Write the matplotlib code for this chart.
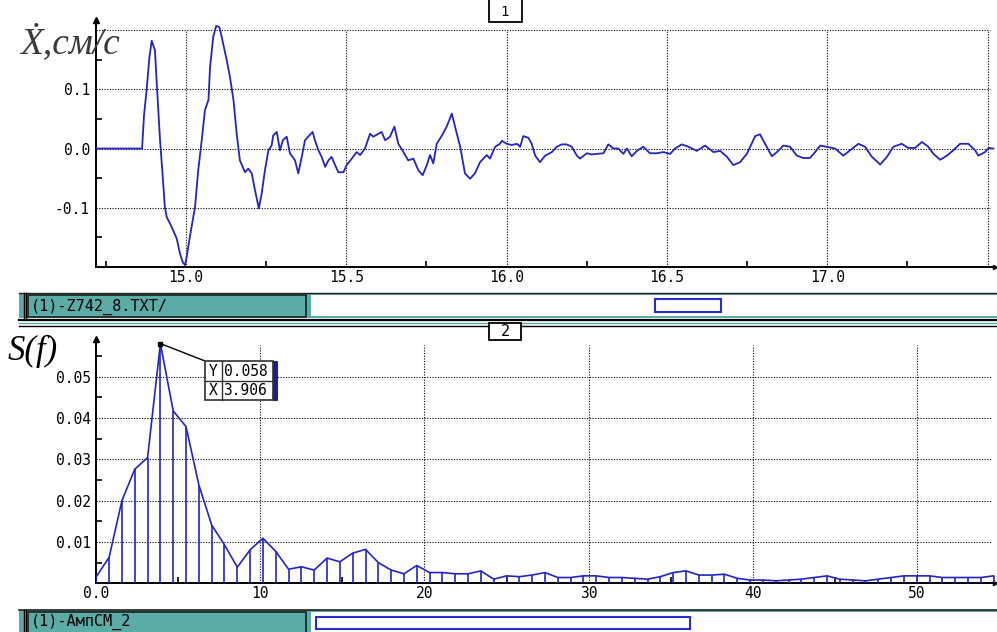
import matplotlib
matplotlib.use("Agg")
import matplotlib.pyplot as plt
from matplotlib.patches import Rectangle
from matplotlib.lines import Line2D

# ---------------- data ----------------
# top panel: velocity record, time (s) and value (cm/s)
time_s = [14.718, 14.863, 14.869, 14.877, 14.886, 14.893, 14.903, 14.910, 14.919, 14.926,
          14.934, 14.940, 14.955, 14.971, 14.981, 14.990, 14.997, 15.002, 15.012, 15.028,
          15.038, 15.049, 15.059, 15.070, 15.075, 15.085, 15.094, 15.104, 15.111, 15.127,
          15.137, 15.148, 15.158, 15.168, 15.184, 15.194, 15.205, 15.215, 15.227, 15.236,
          15.246, 15.257, 15.267, 15.272, 15.283, 15.293, 15.302, 15.314, 15.324, 15.340,
          15.350, 15.361, 15.371, 15.381, 15.395, 15.402, 15.413, 15.423, 15.434, 15.444,
          15.454, 15.465, 15.475, 15.491, 15.501, 15.517, 15.532, 15.543, 15.558, 15.574,
          15.584, 15.600, 15.610, 15.621, 15.636, 15.650, 15.662, 15.678, 15.693, 15.709,
          15.725, 15.738, 15.751, 15.761, 15.771, 15.782, 15.798, 15.813, 15.829, 15.839,
          15.855, 15.870, 15.886, 15.901, 15.917, 15.938, 15.948, 15.964, 15.979, 15.985,
          16.000, 16.016, 16.032, 16.042, 16.052, 16.068, 16.078, 16.089, 16.104, 16.120,
          16.141, 16.156, 16.172, 16.187, 16.203, 16.219, 16.229, 16.250, 16.265, 16.281,
          16.302, 16.317, 16.333, 16.348, 16.364, 16.375, 16.390, 16.406, 16.426, 16.447,
          16.468, 16.489, 16.510, 16.525, 16.546, 16.567, 16.593, 16.619, 16.645, 16.666,
          16.687, 16.707, 16.728, 16.749, 16.764, 16.775, 16.790, 16.806, 16.827, 16.843,
          16.863, 16.884, 16.905, 16.925, 16.946, 16.962, 16.978, 16.998, 17.024, 17.050,
          17.071, 17.097, 17.118, 17.139, 17.165, 17.186, 17.206, 17.232, 17.253, 17.274,
          17.295, 17.315, 17.331, 17.352, 17.373, 17.393, 17.414, 17.440, 17.461, 17.471,
          17.492, 17.503, 17.518]
velocity = [0.000, 0.000, 0.056, 0.098, 0.155, 0.182, 0.166, 0.098, 0.014, -0.037,
            -0.099, -0.116, -0.132, -0.152, -0.177, -0.192, -0.197, -0.183, -0.149, -0.099,
            -0.037, 0.014, 0.065, 0.082, 0.138, 0.189, 0.207, 0.205, 0.189, 0.149,
            0.121, 0.082, 0.025, -0.020, -0.040, -0.034, -0.042, -0.070, -0.101, -0.076,
            -0.037, -0.003, 0.005, 0.022, 0.028, -0.003, 0.014, 0.020, -0.008, -0.020,
            -0.042, -0.014, 0.014, 0.020, 0.028, 0.014, -0.003, -0.014, -0.031, -0.020,
            -0.014, -0.028, -0.040, -0.040, -0.028, -0.017, -0.006, -0.011, 0.000, 0.025,
            0.020, 0.025, 0.028, 0.014, 0.020, 0.037, 0.008, -0.006, -0.020, -0.017,
            -0.037, -0.045, -0.028, -0.011, -0.025, 0.008, 0.022, 0.037, 0.059, 0.037,
            0.003, -0.042, -0.051, -0.042, -0.023, -0.011, -0.017, 0.003, 0.008, 0.013,
            0.008, 0.006, 0.008, 0.003, 0.021, 0.018, 0.008, -0.012, -0.023, -0.012,
            -0.006, 0.003, 0.007, 0.007, 0.003, -0.012, -0.017, -0.008, -0.010, -0.009,
            -0.008, 0.007, 0.000, 0.000, -0.009, 0.000, -0.013, -0.004, 0.003, -0.008,
            -0.008, -0.006, -0.009, 0.000, 0.007, 0.003, -0.004, 0.005, -0.006, -0.004,
            -0.014, -0.028, -0.023, -0.009, 0.008, 0.021, 0.024, 0.008, -0.013, -0.006,
            0.005, 0.003, -0.012, -0.016, -0.016, -0.006, 0.005, 0.003, 0.000, -0.012,
            -0.003, 0.008, 0.003, -0.014, -0.027, -0.014, 0.003, 0.008, 0.001, 0.001,
            0.011, 0.003, -0.009, -0.019, -0.012, -0.003, 0.008, 0.008, -0.003, -0.012,
            -0.006, 0.001, 0.000]

# bottom panel: amplitude spectrum, frequency step 0.78125 Hz
freq_step = 0.78125
amplitude = [0.0016, 0.0063, 0.0200, 0.0276, 0.0304, 0.0580, 0.0417, 0.0379, 0.0238, 0.0141,
             0.0093, 0.0039, 0.0081, 0.0109, 0.0077, 0.0034, 0.0040, 0.0032, 0.0061, 0.0052,
             0.0073, 0.0082, 0.0050, 0.0032, 0.0023, 0.0043, 0.0026, 0.0026, 0.0023, 0.0023,
             0.0030, 0.0010, 0.0018, 0.0016, 0.0020, 0.0026, 0.0014, 0.0014, 0.0018, 0.0018,
             0.0014, 0.0014, 0.0012, 0.0010, 0.0016, 0.0026, 0.0030, 0.0020, 0.0020, 0.0022,
             0.0012, 0.0008, 0.0008, 0.0006, 0.0008, 0.0010, 0.0014, 0.0018, 0.0010, 0.0008,
             0.0006, 0.0010, 0.0014, 0.0018, 0.0018, 0.0018, 0.0014, 0.0014, 0.0014, 0.0014,
             0.0018]
frequency = [k * freq_step for k in range(len(amplitude))]

top_xticks = [15.0, 15.5, 16.0, 16.5, 17.0]
top_xticklabels = ["15.0", "15.5", "16.0", "16.5", "17.0"]
top_yticks = [-0.1, 0.0, 0.1]
top_yticklabels = ["-0.1", "0.0", "0.1"]
bot_xticks = [0, 10, 20, 30, 40, 50]
bot_xticklabels = ["0.0", "10", "20", "30", "40", "50"]
bot_yticks = [0.01, 0.02, 0.03, 0.04, 0.05]
bot_yticklabels = ["0.01", "0.02", "0.03", "0.04", "0.05"]

peak_x, peak_y = 3.906, 0.058
top_label = "Ẋ,см/с"
bot_label = "S(f)"
top_file = "(1)-Z742_8.TXT/"
bot_file = "(1)-АмпСМ_2"

# ---------------- figure ----------------
W, H = 997, 632
fig = plt.figure(figsize=(W / 100, H / 100), dpi=100)
fig.patch.set_facecolor("white")

BLUE = "#2424c0"
TEAL = "#5babA7"
MONO = "DejaVu Sans Mono"


def fx(x):
    return x / W


def fy(y):
    return 1 - y / H


def rect(x0, y0, x1, y1, fc="none", ec="none", lw=0.0, z=5):
    r = Rectangle((fx(x0), fy(y1)), fx(x1) - fx(x0), fy(y0) - fy(y1),
                  transform=fig.transFigure, facecolor=fc, edgecolor=ec,
                  linewidth=lw, zorder=z)
    fig.add_artist(r)


def hline(y, x0, x1, color="black", lw=1.0, z=6):
    fig.add_artist(Line2D([fx(x0), fx(x1)], [fy(y), fy(y)], transform=fig.transFigure,
                          color=color, lw=lw, zorder=z))


def vline(x, y0, y1, color="black", lw=1.0, z=6):
    fig.add_artist(Line2D([fx(x), fx(x)], [fy(y0), fy(y1)], transform=fig.transFigure,
                          color=color, lw=lw, zorder=z))


def style_axes(ax):
    for s in ("top", "right"):
        ax.spines[s].set_visible(False)
    for s in ("left", "bottom"):
        ax.spines[s].set_linewidth(1.4)
        ax.spines[s].set_color("black")
    ax.tick_params(which="major", length=0, labelsize=10.5, labelcolor="black")
    ax.tick_params(axis="x", which="major", pad=2)
    ax.tick_params(axis="y", which="major", pad=4)
    ax.tick_params(which="minor", direction="in", length=4, width=1.2, color="black")
    for lab in ax.get_xticklabels() + ax.get_yticklabels():
        lab.set_family(MONO)
    ax.plot(0, 1, marker="^", ms=4, color="black", transform=ax.transAxes, clip_on=False)
    ax.plot(1, 0, marker=">", ms=3, color="black", transform=ax.transAxes, clip_on=False)


GRID = dict(color="black", lw=0.8, ls=(0, (1, 1.4)), zorder=1)

# ---------------- top panel ----------------
ax1 = fig.add_axes([fx(95.5), fy(267), fx(995) - fx(95.5), fy(20) - fy(267)])
x0t, x1t = 14.7177, 17.523
ax1.set_xlim(x0t, x1t)
ax1.set_ylim(-0.2, 0.217)
ax1.hlines([-0.1, 0.0, 0.1, 0.2], x0t, 17.506, **GRID)
ax1.vlines([15.0, 15.5, 16.0, 16.5, 17.0, 17.5], -0.2, 0.2, **GRID)
ax1.plot(time_s, velocity, color=BLUE, lw=1.3, zorder=3)
ax1.set_xticks(top_xticks)
ax1.set_xticklabels(top_xticklabels)
ax1.set_yticks(top_yticks)
ax1.set_yticklabels(top_yticklabels)
ax1.set_xticks([14.75, 15.25, 15.75, 16.25, 16.75, 17.25], minor=True)
ax1.set_yticks([-0.15, -0.05, 0.05, 0.15], minor=True)
style_axes(ax1)

# ---------------- bottom panel ----------------
ax2 = fig.add_axes([fx(96.3), fy(583.3), fx(995) - fx(96.3), fy(339) - fy(583.3)])
ax2.set_xlim(0, 54.77)
ax2.set_ylim(0, 0.0591)
ax2.hlines(bot_yticks, 0, 54.56, **GRID)
ax2.vlines([10, 20, 30, 40, 50], 0, 0.0577, **GRID)
ax2.vlines(frequency, 0, amplitude, color=BLUE, lw=1.2, zorder=3)
ax2.plot(frequency, amplitude, color=BLUE, lw=1.2, zorder=3)
ax2.set_xticks(bot_xticks)
ax2.set_xticklabels(bot_xticklabels)
ax2.set_yticks(bot_yticks)
ax2.set_yticklabels(bot_yticklabels)
ax2.set_xticks([5, 15, 25, 35, 45], minor=True)
ax2.set_yticks([0.005, 0.015, 0.025, 0.035, 0.045, 0.055], minor=True)
style_axes(ax2)

# cursor marker and readout
ax2.plot(peak_x, peak_y, "s", ms=3.5, color="black", zorder=6)
ax2.annotate("", xy=(peak_x, peak_y), xycoords="data",
             xytext=(205, H - 361), textcoords="figure pixels",
             arrowprops=dict(arrowstyle="-", lw=1.0, color="black", shrinkA=0, shrinkB=0))
rect(205, 361, 273, 400, fc="white", ec="#303030", lw=1.2, z=7)
rect(272.7, 361, 277, 400, fc="#1a1a9a", ec="#303030", lw=0.8, z=7)
vline(221.7, 361, 400, color="#303030", lw=1.0, z=8)
hline(380.7, 205, 273, color="#303030", lw=1.0, z=8)
fig.text(fx(213.3), fy(371), "Y", ha="center", va="center", family=MONO, fontsize=10.5, zorder=9)
fig.text(fx(213.3), fy(390.5), "X", ha="center", va="center", family=MONO, fontsize=10.5, zorder=9)
fig.text(fx(223.5), fy(371), f"{peak_y:.3f}", ha="left", va="center", family=MONO, fontsize=10.5, zorder=9)
fig.text(fx(223.5), fy(390.5), f"{peak_x:.3f}", ha="left", va="center", family=MONO, fontsize=10.5, zorder=9)

# ---------------- axis labels ----------------
fig.text(fx(20), fy(53), top_label, family=["Liberation Serif", "DejaVu Serif"],
         style="italic", fontsize=27, color="#3a3a3a", ha="left", va="baseline")
fig.text(fx(8), fy(360), bot_label, family=["Liberation Serif", "DejaVu Serif"],
         style="italic", fontsize=25, color="black", ha="left", va="baseline")

# ---------------- window chrome ----------------
# panel number boxes
rect(488.5, -2, 521.5, 21.5, fc="white", ec="black", lw=1.3, z=7)
fig.text(fx(505), fy(12), "1", ha="center", va="center", family=MONO, fontsize=10, zorder=8)

# top status bar
rect(19, 292.5, 997, 318, fc=TEAL, z=5)
hline(292.5, 19, 997, color="#222222", lw=1.0)
rect(311, 295.5, 997, 316, fc="white", z=6)
vline(23.5, 293, 318, lw=1.0)
vline(25.5, 293, 318, lw=1.0)
rect(27.5, 295.5, 306, 316.5, fc=TEAL, ec="#1c2c2c", lw=1.3, z=6)
fig.text(fx(31), fy(306.5), top_file, ha="left", va="center", family=MONO, fontsize=11, zorder=8)
rect(655, 298.5, 720.5, 312, fc="none", ec="#2b2bc8", lw=1.5, z=8)
hline(320.3, 19, 997, color="black", lw=1.6)
hline(323.2, 19, 997, color=TEAL, lw=1.0)
hline(326.0, 19, 997, color="black", lw=1.0)

rect(489, 322.5, 521, 339.5, fc="white", ec="black", lw=1.3, z=7)
fig.text(fx(505), fy(331.5), "2", ha="center", va="center", family=MONO, fontsize=11, zorder=8)

# bottom status bar
rect(19, 609.5, 997, 633, fc=TEAL, z=5)
hline(609.5, 19, 997, color="#222222", lw=1.2)
rect(311, 612, 997, 633, fc="white", z=6)
vline(23.5, 610, 632, lw=1.0)
vline(25.5, 610, 632, lw=1.0)
rect(27.5, 612, 306, 634, fc=TEAL, ec="#1c2c2c", lw=1.3, z=6)
fig.text(fx(31), fy(622), bot_file, ha="left", va="center", family=MONO, fontsize=11, zorder=8)
rect(316, 616.7, 690, 629.3, fc="none", ec="#2b2bc8", lw=1.5, z=8)

fig.savefig("out.png", dpi=100)
